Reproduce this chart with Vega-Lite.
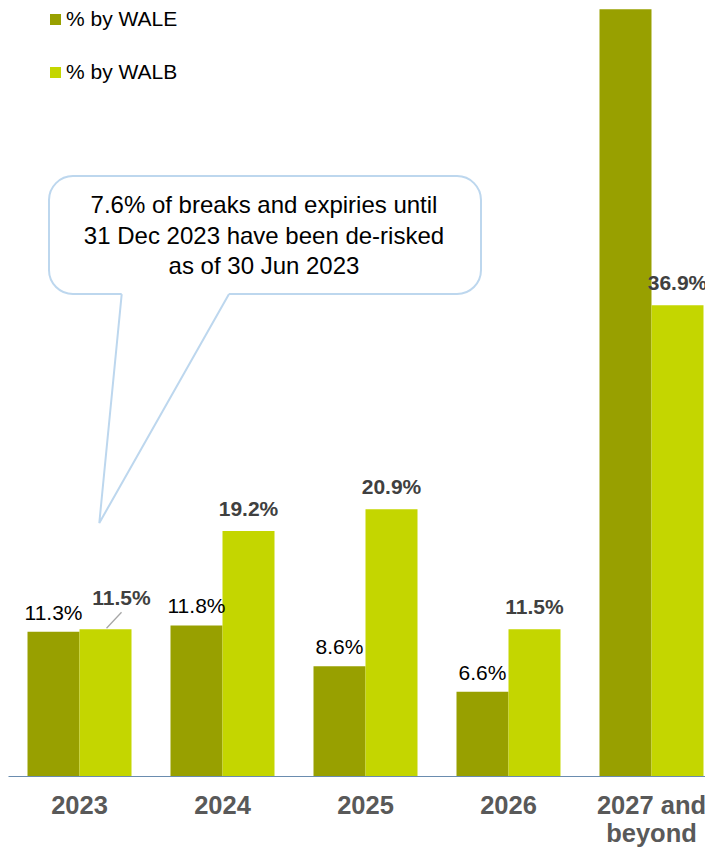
{
  "$schema": "https://vega.github.io/schema/vega-lite/v6.json",
  "autosize": {"type": "none"},
  "padding": {"left": 8, "top": 0, "right": 0, "bottom": 76},
  "width": 715,
  "height": 776,
  "background": "white",
  "config": {
    "view": {"stroke": null},
    "font": "Liberation Sans"
  },
  "datasets": {
    "bars": [
      {"cat": "2023", "series": "% by WALE", "value": 11.3},
      {"cat": "2023", "series": "% by WALB", "value": 11.5},
      {"cat": "2024", "series": "% by WALE", "value": 11.8},
      {"cat": "2024", "series": "% by WALB", "value": 19.2},
      {"cat": "2025", "series": "% by WALE", "value": 8.6},
      {"cat": "2025", "series": "% by WALB", "value": 20.9},
      {"cat": "2026", "series": "% by WALE", "value": 6.6},
      {"cat": "2026", "series": "% by WALB", "value": 11.5},
      {"cat": "2027 and beyond", "series": "% by WALE", "value": 60.1},
      {"cat": "2027 and beyond", "series": "% by WALB", "value": 36.9}
    ],
    "bubble": [
      {"ax0": -0.2133, "ax1": 2.8077, "ay0": 37.77, "ay1": 47.02}
    ],
    "tail": [
      {"o": 1, "ax": 0.2951, "ay": 37.77},
      {"o": 2, "ax": 0.1385, "ay": 19.83},
      {"o": 3, "ax": 1.0455, "ay": 37.77}
    ],
    "note": [
      {"ax": 1.2902, "ay": 44.12, "txt": ["7.6% of breaks and expiries until", "31 Dec 2023 have been de-risked", "as of 30 Jun 2023"]}
    ]
  },
  "resolve": {"scale": {"x": "independent"}},
  "layer": [
    {
      "data": {"name": "bars"},
      "encoding": {
        "x": {
          "field": "cat", "type": "nominal", "sort": null,
          "scale": {"paddingInner": 0.2727, "paddingOuter": 0.1364},
          "axis": {
            "title": null, "ticks": false, "labelAngle": 0,
            "domainColor": "#6A8CAF", "domainWidth": 1.2,
            "labelFont": "Liberation Sans", "labelFontSize": 25.5, "labelFontWeight": "bold",
            "labelColor": "#595959", "labelPadding": 17, "labelLineHeight": 28,
            "labelBaseline": "top",
            "labelExpr": "datum.label == '2027 and beyond' ? ['2027 and', 'beyond'] : datum.label"
          }
        },
        "y": {
          "field": "value", "type": "quantitative",
          "scale": {"domain": [0, 60.82], "nice": false, "zero": true},
          "axis": null
        }
      },
      "layer": [
        {
          "mark": {"type": "bar"},
          "encoding": {
            "xOffset": {"field": "series", "type": "nominal", "sort": ["% by WALE", "% by WALB"], "scale": {"paddingInner": 0, "paddingOuter": 0}},
            "color": {
              "field": "series", "type": "nominal",
              "sort": ["% by WALE", "% by WALB"],
              "scale": {"domain": ["% by WALE", "% by WALB"], "range": ["#98A000", "#C4D600"]},
              "legend": {
                "orient": "none", "legendX": 37, "legendY": 9, "title": null,
                "symbolType": "square", "symbolSize": 121, "symbolStrokeWidth": 0,
                "labelFont": "Liberation Sans", "labelFontSize": 21, "labelColor": "#000000",
                "rowPadding": 31, "labelOffset": 0, "padding": 0, "offset": 0
              }
            }
          }
        },
        {
          "transform": [
            {"filter": "datum.series == '% by WALE' && datum.value < 50"},
            {"calculate": "format(datum.value, '.1f') + '%'", "as": "label"}
          ],
          "mark": {"type": "text", "fontSize": 21, "color": "#000000", "dy": -12, "baseline": "alphabetic", "align": "center"},
          "encoding": {
            "xOffset": {"field": "series", "type": "nominal", "sort": ["% by WALE", "% by WALB"], "scale": {"domain": ["% by WALE", "% by WALB"], "paddingInner": 0, "paddingOuter": 0}},
            "text": {"field": "label"}
          }
        },
        {
          "transform": [
            {"filter": "datum.series == '% by WALB' && datum.cat != '2023'"},
            {"calculate": "format(datum.value, '.1f') + '%'", "as": "label"}
          ],
          "mark": {"type": "text", "fontSize": 21, "fontWeight": "bold", "color": "#404040", "dy": -15, "baseline": "alphabetic", "align": "center"},
          "encoding": {
            "xOffset": {"field": "series", "type": "nominal", "sort": ["% by WALE", "% by WALB"], "scale": {"domain": ["% by WALE", "% by WALB"], "paddingInner": 0, "paddingOuter": 0}},
            "text": {"field": "label"}
          }
        },
        {
          "transform": [
            {"filter": "datum.series == '% by WALB' && datum.cat == '2023'"},
            {"calculate": "format(datum.value, '.1f') + '%'", "as": "label"}
          ],
          "mark": {"type": "text", "fontSize": 21, "fontWeight": "bold", "color": "#404040", "dx": 16, "dy": -24, "baseline": "alphabetic", "align": "center"},
          "encoding": {
            "xOffset": {"field": "series", "type": "nominal", "sort": ["% by WALE", "% by WALB"], "scale": {"domain": ["% by WALE", "% by WALB"], "paddingInner": 0, "paddingOuter": 0}},
            "text": {"field": "label"}
          }
        },
        {
          "transform": [
            {"filter": "datum.series == '% by WALB' && datum.cat == '2023'"}
          ],
          "mark": {"type": "rule", "color": "#A6A6A6", "strokeWidth": 1.3, "xOffset": 1, "x2Offset": 16, "yOffset": -1, "y2Offset": -17},
          "encoding": {
            "x": {"field": "cat", "type": "nominal", "bandPosition": 0.75},
            "x2": {"field": "cat", "bandPosition": 0.75},
            "y2": {"field": "value"}
          }
        }
      ]
    },
    {
      "layer": [
        {
          "data": {"name": "bubble"},
          "mark": {"type": "rect", "fill": "white", "stroke": "#BDD7EE", "strokeWidth": 2, "cornerRadius": 24},
          "encoding": {
            "x": {"field": "ax0", "type": "quantitative", "scale": {"domain": [-0.5, 4.5], "nice": false, "zero": false}, "axis": null},
            "x2": {"field": "ax1"},
            "y": {"field": "ay0", "type": "quantitative"},
            "y2": {"field": "ay1"}
          }
        },
        {
          "data": {"name": "tail"},
          "transform": [{"filter": "datum.o != 2"}],
          "mark": {"type": "line", "color": "white", "strokeWidth": 3},
          "encoding": {
            "x": {"field": "ax", "type": "quantitative"},
            "y": {"field": "ay", "type": "quantitative"},
            "order": {"field": "o"}
          }
        },
        {
          "data": {"name": "tail"},
          "mark": {"type": "line", "color": "#BDD7EE", "strokeWidth": 2, "strokeJoin": "miter"},
          "encoding": {
            "x": {"field": "ax", "type": "quantitative"},
            "y": {"field": "ay", "type": "quantitative"},
            "order": {"field": "o"}
          }
        },
        {
          "data": {"name": "note"},
          "mark": {"type": "text", "fontSize": 24, "color": "#000000", "align": "center", "baseline": "alphabetic", "lineHeight": 30.5},
          "encoding": {
            "x": {"field": "ax", "type": "quantitative"},
            "y": {"field": "ay", "type": "quantitative"},
            "text": {"field": "txt"}
          }
        }
      ]
    }
  ]
}
